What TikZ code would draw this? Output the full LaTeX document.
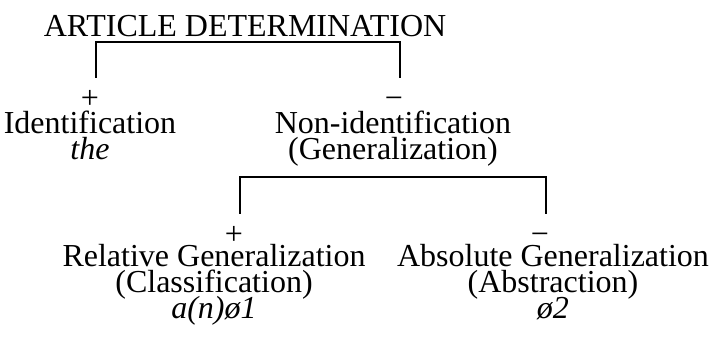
\documentclass[tikz,border=0pt]{standalone}
\usepackage{fontspec}
\setmainfont{Liberation Serif}
\newcommand{\diagfont}{\fontsize{16}{13}\selectfont\lineskiplimit=-100pt\relax}

\begin{document}
\begin{tikzpicture}[x=0.5pt, y=-0.5pt,
    every node/.style={inner sep=0pt, anchor=base, font=\diagfont},
    concept/.style={align=center},
    sign/.style={text height=8pt, text depth=0pt},
    bracket/.style={draw=black, line width=1.2pt, shorten <=7.5pt, shorten >=7.5pt}]
    \useasboundingbox (0,0) rectangle (714,341);

    \coordinate (bar_top) at (245,42);
    \coordinate (bar_bottom) at (390,177);

    \node (title) at (245,37) {ARTICLE DETERMINATION};

    % base of a concept node is the baseline of its last line
    \node[sign] (plus_top) at (90,109) {+};
    \node[sign] (minus_top) at (394,109) {−};
    \node[concept] (ident) at (90,160) {Identification\\\textit{the}};
    \node[concept] (nonident) at (393,160) {Non-identification\\(Generalization)};

    \node[sign] (plus_bottom) at (234,245) {+};
    \node[sign] (minus_bottom) at (540,245) {−};
    \node[concept] (relgen) at (214,319) {Relative Generalization\\(Classification)\\\textit{a(n)ø1}};
    \node[concept] (absgen) at (553,319) {Absolute Generalization\\(Abstraction)\\\textit{ø2}};

    \path[bracket] ([xshift=3pt]plus_top.north) |- (bar_top) -| ([xshift=3pt]minus_top.north);
    \path[bracket] ([xshift=3pt]plus_bottom.north) |- (bar_bottom) -| ([xshift=3pt]minus_bottom.north);

\end{tikzpicture}
\end{document}
